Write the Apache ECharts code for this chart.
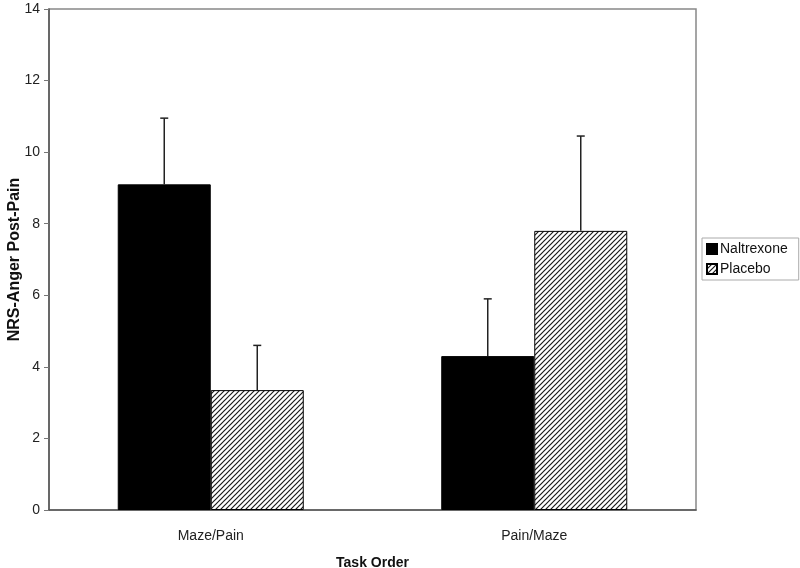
<!DOCTYPE html>
<html>
<head>
<meta charset="utf-8">
<script src="https://cdn.jsdelivr.net/npm/echarts@6/dist/echarts.min.js"></script>
<style>html,body{margin:0;padding:0;background:#fff}#c{width:800px;height:568px}</style>
</head>
<body>
<div id="c"></div>
<script>
var categories = ['Maze/Pain', 'Pain/Maze'];
var naltrexone = [9.1, 4.3];
var naltrexoneErr = [1.85, 1.6];
var placebo = [3.35, 7.8];
var placeboErr = [1.25, 2.65];
var yTicks = [0, 2, 4, 6, 8, 10, 12, 14];

function hatch() {
  var s = 5;
  var cv = document.createElement('canvas');
  cv.width = s; cv.height = s;
  var ctx = cv.getContext('2d');
  ctx.fillStyle = '#fff';
  ctx.fillRect(0, 0, s, s);
  ctx.strokeStyle = '#1a1a1a';
  ctx.lineWidth = 1.2;
  ctx.beginPath();
  ctx.moveTo(-1, s + 1); ctx.lineTo(s + 1, -1);
  ctx.moveTo(-1, 1); ctx.lineTo(1, -1);
  ctx.moveTo(s - 1, s + 1); ctx.lineTo(s + 1, s - 1);
  ctx.stroke();
  return cv;
}
var hatchPattern = { image: hatch(), repeat: 'repeat' };

var catGap = 0.425;
function errSeries(vals, errs, side) {
  return {
    type: 'custom',
    silent: true,
    z: 1,
    data: vals.map(function (v, i) { return [i, v, v + errs[i]]; }),
    renderItem: function (params, api) {
      var band = api.size([1, 0])[0];
      var bw = band * (1 - catGap) / 2;
      var p0 = api.coord([api.value(0), api.value(1)]);
      var p1 = api.coord([api.value(0), api.value(2)]);
      var x = p0[0] + side * bw / 2;
      var st = { stroke: '#222', lineWidth: 1.5 };
      return {
        type: 'group',
        children: [
          { type: 'line', shape: { x1: x, y1: p0[1], x2: x, y2: p1[1] }, style: st },
          { type: 'line', shape: { x1: x - 4, y1: p1[1], x2: x + 4, y2: p1[1] }, style: st }
        ]
      };
    }
  };
}

var chart = echarts.init(document.getElementById('c'), null, { renderer: 'canvas' });
chart.setOption({
  animation: false,
  backgroundColor: '#fff',
  textStyle: { fontFamily: 'Liberation Sans, Arial, sans-serif' },
  grid: { left: 49, right: 104, top: 9, bottom: 58, show: true, borderColor: '#888', borderWidth: 1.5,
    containLabel: false, outerBoundsMode: 'none' },
  legend: {
    orient: 'vertical',
    left: 702, top: 238,
    itemWidth: 10, itemHeight: 10, itemGap: 6,
    padding: [4, 11, 4, 4],
    borderColor: '#aaa', borderWidth: 1,
    icon: 'rect',
    textStyle: { fontSize: 14, color: '#111', fontFamily: 'Liberation Sans, Arial, sans-serif', padding: [0, 0, 0, -2] },
    data: ['Naltrexone', 'Placebo']
  },
  xAxis: {
    type: 'category',
    data: categories,
    name: 'Task Order',
    nameLocation: 'middle',
    nameGap: 46,
    nameMoveOverlap: false,
    nameTextStyle: { fontSize: 14, fontWeight: 'bold', color: '#111' },
    axisLine: { lineStyle: { color: '#555', width: 1.5 } },
    axisTick: { show: false },
    axisLabel: { fontSize: 14, color: '#222', margin: 19 }
  },
  yAxis: {
    type: 'value',
    min: 0, max: 14, interval: 2,
    name: 'NRS-Anger Post-Pain',
    nameLocation: 'middle',
    nameGap: 26,
    nameMoveOverlap: false,
    nameTextStyle: { fontSize: 16, fontWeight: 'bold', color: '#111' },
    splitLine: { show: false },
    axisLine: { show: true, lineStyle: { color: '#555', width: 1.5 } },
    axisTick: { show: true, length: 5, lineStyle: { color: '#777' } },
    axisLabel: { fontSize: 14, color: '#222', margin: 9,
      formatter: function (v) { return yTicks.indexOf(v) >= 0 ? String(v) : ''; } }
  },
  series: [
    { name: 'Naltrexone', type: 'bar', data: naltrexone, barGap: '0%', barCategoryGap: (catGap * 100) + '%',
      itemStyle: { color: '#000', borderColor: '#000', borderWidth: 1 }, z: 2 },
    { name: 'Placebo', type: 'bar', data: placebo, barGap: '0%', barCategoryGap: (catGap * 100) + '%',
      itemStyle: { color: hatchPattern, borderColor: '#000', borderWidth: 1 }, z: 2 },
    errSeries(naltrexone, naltrexoneErr, -1),
    errSeries(placebo, placeboErr, 1)
  ]
});
</script>
</body>
</html>
